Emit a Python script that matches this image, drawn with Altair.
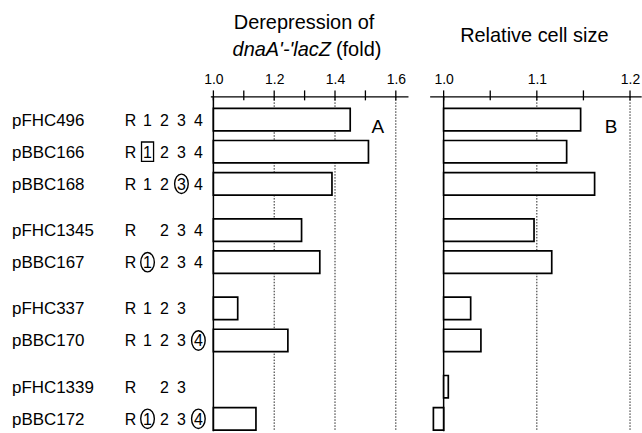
import altair as alt
import pandas as pd

FONT = "Liberation Sans"

# ---- data ----
names = ["pFHC496", "pBBC166", "pBBC168", "pFHC1345", "pBBC167",
         "pFHC337", "pBBC170", "pFHC1339", "pBBC172"]
# "(x)" = circled element, "[x]" = boxed element
motifs = ["R 1 2 3 4", "R [1] 2 3 4", "R 1 2 (3) 4", "R 2 3 4", "R (1) 2 3 4",
          "R 1 2 3", "R 1 2 3 (4)", "R 2 3", "R (1) 2 3 (4)"]
groups = [0, 0, 0, 1, 1, 2, 2, 3, 3]
derepression = [1.45, 1.51, 1.39, 1.29, 1.35, 1.08, 1.245, 1.00, 1.14]
cell_size = [1.147, 1.132, 1.162, 1.097, 1.116, 1.029, 1.040, 1.005, 0.989]

elements = ["R", "1", "2", "3", "4"]
ticks_a = [1.0, 1.1, 1.2, 1.3, 1.4, 1.5, 1.6]
labels_a = [1.0, 1.2, 1.4, 1.6]
grid_a = [1.2, 1.4, 1.6]
ticks_b = [1.0, 1.05, 1.1, 1.15, 1.2]
labels_b = [1.0, 1.1, 1.2]
grid_b = [1.1, 1.2]

GROUP_GAP = 0.44
HALF_BAR = 0.35

rows = pd.DataFrame({
    "name": names,
    "derep": derepression,
    "cell": cell_size,
    "pos": [i + GROUP_GAP * g for i, g in enumerate(groups)],
})
rows["y0"] = rows["pos"] - HALF_BAR
rows["y1"] = rows["pos"] + HALF_BAR
rows["base"] = 1.0

elem_rows = []
for p, m in zip(rows["pos"], motifs):
    for tok in m.split():
        lab = tok.strip("()[]")
        ring = "circle" if tok.startswith("(") else ("box" if tok.startswith("[") else "none")
        elem_rows.append({"pos": p, "label": lab, "ring": ring, "col": elements.index(lab)})
elem_df = pd.DataFrame(elem_rows)

H = 336
yscale = alt.Scale(domain=[-0.724, 9.71], reverse=True, nice=False, zero=False)

ELLIPSE = "M0,-1 A0.7,1 0 1,1 0,1 A0.7,1 0 1,1 0,-1 Z"
BOX = "M-0.62,-1 L0.62,-1 L0.62,1 L-0.62,1 Z"

# ---- left text panel ----
colscale = alt.Scale(domain=[0, 4], range=[131, 199])
name_txt = alt.Chart(rows).mark_text(
    align="left", baseline="middle", font=FONT, fontSize=17, color="black", dy=1
).encode(x=alt.value(12), y=alt.Y("pos:Q", scale=yscale, axis=None), text="name:N")
motif_txt = alt.Chart(elem_df).mark_text(
    align="center", baseline="middle", font=FONT, fontSize=16, color="black", dy=1
).encode(x=alt.X("col:Q", scale=colscale, axis=None),
         y=alt.Y("pos:Q", scale=yscale, axis=None), text="label:N")
circles = alt.Chart(elem_df).transform_filter("datum.ring == 'circle'").mark_point(
    shape=ELLIPSE, size=380, filled=False, stroke="black", strokeWidth=1.4, opacity=1
).encode(x=alt.X("col:Q", scale=colscale, axis=None),
         y=alt.Y("pos:Q", scale=yscale, axis=None))
boxes = alt.Chart(elem_df).transform_filter("datum.ring == 'box'").mark_point(
    shape=BOX, size=380, filled=False, stroke="black", strokeWidth=1.3, opacity=1
).encode(x=alt.X("col:Q", scale=colscale, axis=None),
         y=alt.Y("pos:Q", scale=yscale, axis=None))
left = alt.layer(name_txt, motif_txt, circles, boxes).properties(width=190, height=H)


def panel(field, domain, width, ticks, labels, grid, title_layers, letter, letter_x):
    xs = alt.Scale(domain=domain, nice=False, zero=False)
    ax = alt.Axis(orient="top", values=labels, format=".1f", ticks=False, tickSize=0,
                  grid=False, domain=True, domainColor="black", domainWidth=1.5,
                  labelFont=FONT, labelFontSize=14, labelColor="black",
                  labelPadding=10, title=None)
    grid_rules = alt.Chart(pd.DataFrame({"v": grid})).mark_rule(
        color="#222", strokeWidth=1, strokeDash=[1.5, 1.5]
    ).encode(x=alt.X("v:Q", scale=xs, axis=ax))
    base_rule = alt.Chart(pd.DataFrame({"v": [1.0]})).mark_rule(
        color="black", strokeWidth=1.5
    ).encode(x=alt.X("v:Q", scale=xs, axis=ax))
    tick_rules = alt.Chart(pd.DataFrame({"v": ticks})).mark_rule(
        color="black", strokeWidth=1.3
    ).encode(x=alt.X("v:Q", scale=xs, axis=ax), y=alt.value(-6), y2=alt.value(4))
    bars = alt.Chart(rows).transform_filter(f"datum.{field} != 1").mark_rect(
        fill="white", stroke="black", strokeWidth=1.7
    ).encode(x=alt.X(f"{field}:Q", scale=xs, axis=ax), x2="base:Q",
             y=alt.Y("y0:Q", scale=yscale, axis=None), y2="y1:Q")
    let = alt.Chart(pd.DataFrame({"t": [letter]})).mark_text(
        font=FONT, fontSize=19, color="black", align="center", baseline="middle"
    ).encode(x=alt.value(letter_x), y=alt.value(31), text="t:N")
    return alt.layer(grid_rules, base_rule, bars, tick_rules, let, *title_layers).properties(
        width=width, height=H)


def title_text(txt, x, y, align="center", style="normal"):
    return alt.Chart(pd.DataFrame({"t": [txt]})).mark_text(
        font=FONT, fontSize=20, color="black", align=align, baseline="alphabetic",
        fontStyle=style
    ).encode(x=alt.value(x), y=alt.value(y), text="t:N")


titles_a = [
    title_text("Derepression of", 94, -68),
    title_text("dnaA'-'lacZ", 121, -40, align="right", style="italic"),
    title_text("(fold)", 126, -40, align="left"),
]
titles_b = [title_text("Relative cell size", 105, -55)]

panel_a = panel("derep", [0.99, 1.64], 198.25, ticks_a, labels_a, grid_a, titles_a, "A", 168)
panel_b = panel("cell", [0.985, 1.212], 212.2, ticks_b, labels_b, grid_b, titles_b, "B", 182)

chart = alt.hconcat(left, panel_a, panel_b, spacing=21, bounds="flush").properties(
    padding={"left": 0, "top": 12, "right": 0, "bottom": 0}
).configure_view(stroke=None).configure_axis(grid=False)

chart.save("out.html", embed_options={"renderer": "svg", "actions": False})
